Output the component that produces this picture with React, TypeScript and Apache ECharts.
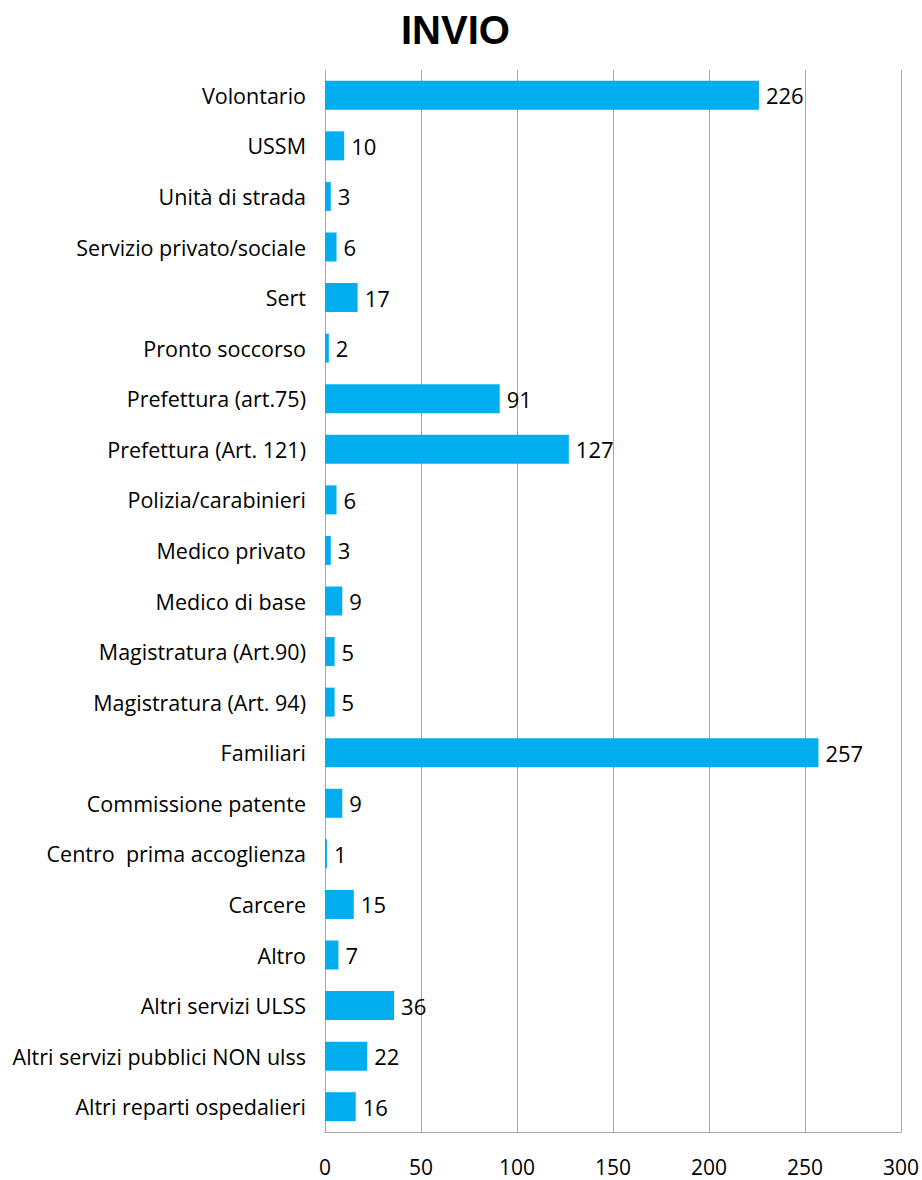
import React, { useEffect, useRef } from "react";
import * as echarts from "echarts";

const categories = [
  "Volontario",
  "USSM",
  "Unità di strada",
  "Servizio privato/sociale",
  "Sert",
  "Pronto soccorso",
  "Prefettura (art.75)",
  "Prefettura (Art. 121)",
  "Polizia/carabinieri",
  "Medico privato",
  "Medico di base",
  "Magistratura (Art.90)",
  "Magistratura (Art. 94)",
  "Familiari",
  "Commissione patente",
  "Centro  prima accoglienza",
  "Carcere",
  "Altro",
  "Altri servizi ULSS",
  "Altri servizi pubblici NON ulss",
  "Altri reparti ospedalieri",
];
const values = [226, 10, 3, 6, 17, 2, 91, 127, 6, 3, 9, 5, 5, 257, 9, 1, 15, 7, 36, 22, 16];
const xTicks = { min: 0, max: 300, interval: 50 };
const title = "INVIO";

const FONT = "'Open Sans', 'Noto Sans', sans-serif";

export default function App() {
  const ref = useRef<HTMLDivElement>(null);
  useEffect(() => {
    const chart = echarts.init(ref.current!, null, { renderer: "svg" });
    chart.setOption({
      animation: false,
      backgroundColor: "#ffffff",
      title: {
        text: title,
        left: 396,
        top: 5,
        textStyle: { fontFamily: "'Liberation Sans', Arial, sans-serif", fontWeight: "bold", fontSize: 40, color: "#000" },
      },
      grid: { left: 325, right: 20, top: 70, bottom: 48, containLabel: false },
      xAxis: {
        type: "value",
        min: xTicks.min,
        max: xTicks.max,
        interval: xTicks.interval,
        axisLine: { show: true, lineStyle: { color: "#a6a6a6", width: 1 } },
        axisTick: { show: false },
        splitLine: { show: true, lineStyle: { color: "#a6a6a6", width: 1 } },
        axisLabel: { color: "#000", fontSize: 21, fontFamily: FONT, margin: 24 },
      },
      yAxis: {
        type: "category",
        data: categories,
        inverse: true,
        axisLine: { show: true, lineStyle: { color: "#a6a6a6", width: 1 } },
        axisTick: { show: false },
        axisLabel: { color: "#000", fontSize: 21.5, fontFamily: FONT, margin: 19 },
      },
      series: [
        {
          type: "bar",
          data: values,
          barWidth: 29,
          itemStyle: { color: "#00aeef" },
          label: {
            show: true,
            position: "right",
            distance: 7,
            color: "#000",
            fontSize: 22,
            fontFamily: FONT,
          },
        },
      ],
    });
    return () => chart.dispose();
  }, []);
  return <div ref={ref} style={{ position: "fixed", left: 0, top: 0, width: 922, height: 1180 }} />;
}
